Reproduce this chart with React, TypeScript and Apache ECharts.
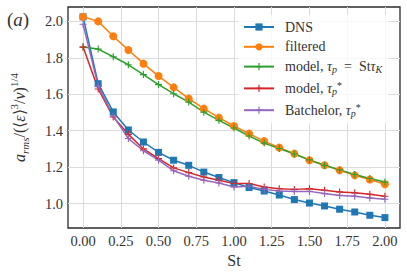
import React, { useEffect, useRef } from "react";
import * as echarts from "echarts";

const St = [0, 0.1, 0.2, 0.3, 0.4, 0.5, 0.6, 0.7, 0.8, 0.9, 1.0, 1.1, 1.2, 1.3, 1.4, 1.5, 1.6, 1.7, 1.8, 1.9, 2.0];
const dns = [2.025, 1.658, 1.503, 1.404, 1.338, 1.281, 1.238, 1.21, 1.173, 1.143, 1.115, 1.088, 1.069, 1.047, 1.022, 1.003, 0.987, 0.969, 0.954, 0.936, 0.923];
const filtered = [2.025, 2.0, 1.918, 1.843, 1.768, 1.7, 1.638, 1.576, 1.521, 1.472, 1.426, 1.384, 1.343, 1.307, 1.274, 1.238, 1.21, 1.183, 1.155, 1.132, 1.106];
const modelSt = [1.859, 1.848, 1.806, 1.762, 1.708, 1.653, 1.603, 1.557, 1.502, 1.457, 1.415, 1.371, 1.332, 1.302, 1.272, 1.24, 1.21, 1.185, 1.16, 1.138, 1.118];
const modelStar = [1.859, 1.629, 1.475, 1.38, 1.3, 1.247, 1.196, 1.17, 1.146, 1.128, 1.11, 1.11, 1.091, 1.082, 1.078, 1.082, 1.073, 1.064, 1.059, 1.051, 1.04];
const batchelor = [1.984, 1.645, 1.48, 1.357, 1.29, 1.238, 1.18, 1.15, 1.128, 1.113, 1.091, 1.095, 1.078, 1.069, 1.067, 1.067, 1.055, 1.045, 1.04, 1.031, 1.024];

const xTicks = [0, 0.25, 0.5, 0.75, 1.0, 1.25, 1.5, 1.75, 2.0];
const yTicks = [1.0, 1.2, 1.4, 1.6, 1.8, 2.0];

const FONT = "Liberation Serif";
const TXT = "#333333";
const PLUS = "path://M4.2,0H5.8V4.2H10V5.8H5.8V10H4.2V5.8H0V4.2H4.2Z";

const pairs = (ys: number[]) => St.map((x, i) => [x, ys[i]]);

const legendRich = {
  n: { fontFamily: FONT, fontSize: 14, color: TXT, lineHeight: 16, verticalAlign: "middle" },
  i: { fontFamily: FONT, fontStyle: "italic", fontSize: 14, color: TXT, lineHeight: 16, verticalAlign: "middle" },
  sub: { fontFamily: FONT, fontStyle: "italic", fontSize: 10, color: TXT, lineHeight: 11, verticalAlign: "bottom" },
  sup: { fontFamily: FONT, fontSize: 10, color: TXT, lineHeight: 8, verticalAlign: "top" },
};

const legendLabels: Record<string, string> = {
  DNS: "{n|DNS}",
  filtered: "{n|filtered}",
  m1: "{n|model, }{i|τ}{sub|p}{n|  =  St}{i|τ}{sub|K}",
  m2: "{n|model, }{i|τ}{sub|p}{sup|*}",
  b: "{n|Batchelor, }{i|τ}{sub|p}{sup|*}",
};

export default function App() {
  const ref = useRef<HTMLDivElement>(null);
  useEffect(() => {
    if (!ref.current) return;
    const chart = echarts.init(ref.current, null, { renderer: "svg" });
    const mk = (name: string, ys: number[], color: string, symbol: string, size: number) => ({
      name,
      type: "line",
      data: pairs(ys),
      symbol,
      symbolSize: size,
      showSymbol: true,
      lineStyle: { color, width: 1.5 },
      itemStyle: { color, borderWidth: 0 },
      emphasis: { disabled: true },
    });
    chart.setOption({
      animation: false,
      backgroundColor: "#ffffff",
      textStyle: { fontFamily: FONT },
      grid: {
        left: 61,
        right: 7,
        top: 7,
        bottom: 46,
        show: true,
        borderColor: "#2a2a2a",
        borderWidth: 1.3,
        backgroundColor: "transparent",
      },
      xAxis: {
        type: "value",
        min: -0.1,
        max: 2.1,
        name: "St",
        nameLocation: "middle",
        nameGap: 21,
        nameTextStyle: { fontFamily: FONT, fontSize: 16, color: TXT },
        axisLine: { show: false },
        axisTick: { show: false, customValues: xTicks },
        axisLabel: {
          customValues: xTicks,
          formatter: (v: number) => v.toFixed(2),
          fontFamily: FONT,
          fontSize: 14.5,
          color: TXT,
          margin: 5,
        },
        splitLine: { show: true, lineStyle: { color: "#dcdcdc", width: 1 } },
      },
      yAxis: {
        type: "value",
        min: 0.866,
        max: 2.079,
        name: "{i|a}{sub|rms}{n|/(⟨}{i|ε}{n|⟩}{sup|3}{n|/}{i|ν}{n|)}{sup|1/4}",
        nameLocation: "middle",
        nameRotate: 90,
        nameGap: 38,
        nameTextStyle: {
          rich: {
            n: { fontFamily: FONT, fontSize: 16, color: TXT, lineHeight: 22, verticalAlign: "middle" },
            i: { fontFamily: FONT, fontStyle: "italic", fontSize: 16, color: TXT, lineHeight: 22, verticalAlign: "middle" },
            sub: { fontFamily: FONT, fontStyle: "italic", fontSize: 11, color: TXT, lineHeight: 14, verticalAlign: "bottom" },
            sup: { fontFamily: FONT, fontSize: 11, color: TXT, lineHeight: 10, verticalAlign: "top" },
          },
        },
        axisLine: { show: false },
        axisTick: { show: false, customValues: yTicks },
        axisLabel: {
          customValues: yTicks,
          formatter: (v: number) => v.toFixed(1),
          fontFamily: FONT,
          fontSize: 14.5,
          color: TXT,
          margin: 5,
        },
        splitLine: { show: true, lineStyle: { color: "#dcdcdc", width: 1 } },
      },
      legend: {
        orient: "vertical",
        left: 238,
        top: 15,
        padding: [5, 6, 5, 5],
        itemWidth: 30,
        itemHeight: 9,
        itemGap: 5.8,
        backgroundColor: "rgba(255,255,255,0.8)",
        borderWidth: 0,
        data: ["DNS", "filtered", "m1", "m2", "b"],
        formatter: (name: string) => legendLabels[name],
        textStyle: { fontFamily: FONT, fontSize: 14, color: TXT, padding: [0, 0, 0, 6], rich: legendRich },
      },
      graphic: [
        {
          type: "text",
          left: 7,
          top: 10,
          style: {
            text: "{n|(}{i|a}{n|)}",
            rich: {
              n: { fontFamily: FONT, fontSize: 19, fill: TXT },
              i: { fontFamily: FONT, fontStyle: "italic", fontSize: 19, fill: TXT },
            },
          },
        },
      ],
      series: [
        mk("DNS", dns, "#1f77b4", "rect", 7),
        mk("filtered", filtered, "#ff7f0e", "circle", 8),
        mk("m1", modelSt, "#2ca02c", PLUS, 7),
        mk("m2", modelStar, "#d62728", PLUS, 7),
        mk("b", batchelor, "#9467bd", PLUS, 7),
      ],
    });
    return () => chart.dispose();
  }, []);
  return (
    <div
      ref={ref}
      style={{ position: "fixed", left: 0, top: 0, width: 407, height: 274, background: "#fff" }}
    />
  );
}
